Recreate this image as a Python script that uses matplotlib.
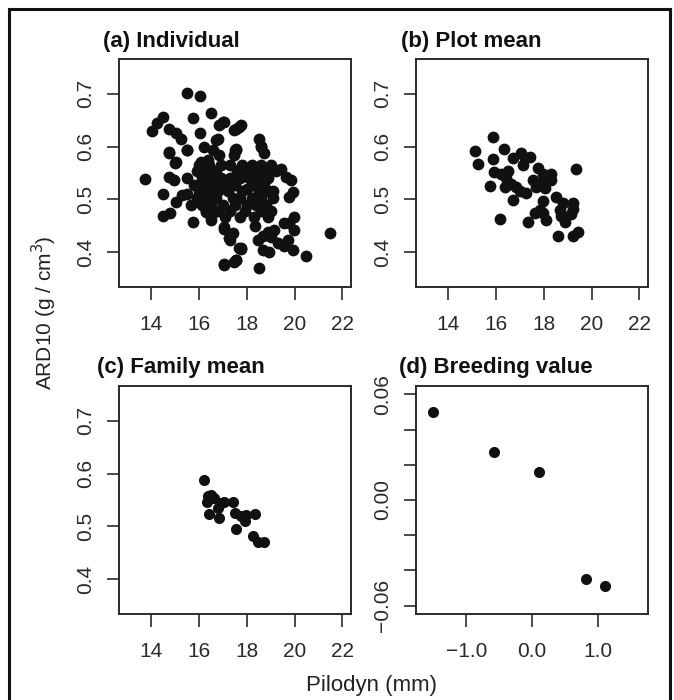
import matplotlib
matplotlib.use('Agg')
import matplotlib.pyplot as plt
from matplotlib.lines import Line2D
from matplotlib.ticker import FixedLocator, FixedFormatter

plt.rcParams['font.family'] = ['Liberation Sans', 'DejaVu Sans']

# (a) individual trees: pilodyn (mm), ARD10 (g/cm3)
ind_x = [15.50, 16.02, 16.48, 15.75, 14.48, 14.24, 14.03, 14.73, 15.01, 15.22,
         15.50, 14.73, 15.01, 16.02, 16.83, 17.04, 16.77, 17.54, 16.20, 16.56,
         16.83, 16.06, 16.35, 17.54, 13.75, 14.73, 14.94, 15.50, 17.68, 17.47,
         18.52, 18.59, 18.73, 17.54, 17.47, 19.43, 19.64, 19.85, 14.49, 15.01,
         15.29, 15.50, 15.64, 14.49, 14.77, 15.75, 16.48, 16.27, 17.04, 17.25,
         17.68, 17.04, 17.47, 19.92, 19.78, 21.47, 20.48, 19.99, 19.78, 19.99,
         19.57, 19.92, 19.57, 19.71, 17.75, 18.52, 17.54, 18.66, 18.94, 18.45,
         19.01, 19.29, 19.15, 17.06, 17.27, 17.41, 18.32, 18.67, 18.88, 17.76,
         17.55, 17.03, 16.70, 17.48, 18.60, 16.99, 17.76, 15.49, 14.74, 15.00,
         # dense core
         16.00, 16.40, 16.90, 17.30, 17.80, 18.20, 18.60, 19.00,
         15.90, 16.30, 16.70, 17.60, 18.00, 18.40, 18.80, 19.20,
         16.10, 16.50, 16.90, 17.30, 17.70, 18.10, 18.50, 18.90,
         15.80, 16.20, 16.60, 17.00, 17.50, 18.30, 18.70,
         16.00, 16.40, 16.80, 17.20, 17.80, 18.50, 18.90,
         15.90, 16.30, 16.70, 17.40, 17.70, 18.20, 18.60, 19.10,
         16.10, 16.50, 17.00, 17.50, 18.00, 18.40, 18.80,
         16.30, 16.80, 17.30, 17.90, 18.60, 19.00,
         16.50, 17.10, 17.70, 18.30, 18.90,
         18.20, 18.60, 19.00, 17.90, 18.45, 18.85, 18.00, 18.75, 19.10, 17.20,
         16.50]
ind_y = [0.701, 0.695, 0.664, 0.654, 0.657, 0.645, 0.629, 0.634, 0.625, 0.615,
         0.593, 0.590, 0.571, 0.625, 0.640, 0.646, 0.615, 0.634, 0.599, 0.593,
         0.584, 0.571, 0.574, 0.593, 0.538, 0.543, 0.536, 0.540, 0.637, 0.631,
         0.615, 0.602, 0.587, 0.596, 0.584, 0.558, 0.543, 0.536, 0.510, 0.495,
         0.508, 0.511, 0.489, 0.468, 0.474, 0.458, 0.461, 0.477, 0.448, 0.426,
         0.407, 0.376, 0.382, 0.514, 0.505, 0.437, 0.393, 0.467, 0.455, 0.442,
         0.455, 0.404, 0.411, 0.423, 0.407, 0.370, 0.385, 0.404, 0.401, 0.423,
         0.429, 0.417, 0.442, 0.443, 0.424, 0.436, 0.449, 0.430, 0.439, 0.406,
         0.386, 0.377, 0.613, 0.593, 0.600, 0.646, 0.641, 0.593, 0.587, 0.569,
         0.565, 0.565, 0.565, 0.565, 0.565, 0.565, 0.565, 0.565,
         0.553, 0.553, 0.553, 0.553, 0.553, 0.553, 0.553, 0.553,
         0.540, 0.540, 0.540, 0.540, 0.540, 0.540, 0.540, 0.540,
         0.528, 0.528, 0.528, 0.528, 0.528, 0.528, 0.528,
         0.515, 0.515, 0.515, 0.515, 0.515, 0.515, 0.515,
         0.503, 0.503, 0.503, 0.503, 0.503, 0.503, 0.503, 0.503,
         0.490, 0.490, 0.490, 0.490, 0.490, 0.490, 0.490,
         0.478, 0.478, 0.478, 0.478, 0.478, 0.478,
         0.466, 0.466, 0.466, 0.466, 0.466,
         0.560, 0.558, 0.557, 0.558, 0.547, 0.545, 0.520, 0.520, 0.515, 0.530,
         0.525]

# (b) plot means
plot_x = [15.85, 15.12, 15.25, 16.32, 15.85, 16.70, 17.05, 17.19, 17.40, 17.12,
          15.92, 16.20, 16.49, 15.76, 16.42, 16.35, 16.63, 16.84, 16.70, 16.98,
          17.75, 17.96, 18.31, 17.54, 17.82, 18.10, 17.68, 18.03, 18.31, 19.34,
          18.52, 18.80, 18.66, 17.96, 17.82, 17.61, 17.96, 18.10, 17.33, 16.16,
          18.73, 18.87, 19.22, 19.22, 19.15, 18.59, 19.22, 19.43, 17.26]
plot_y = [0.618, 0.592, 0.568, 0.595, 0.576, 0.578, 0.587, 0.578, 0.581, 0.565,
          0.551, 0.549, 0.553, 0.526, 0.540, 0.524, 0.530, 0.524, 0.499, 0.515,
          0.559, 0.549, 0.549, 0.537, 0.531, 0.534, 0.524, 0.521, 0.537, 0.557,
          0.505, 0.493, 0.480, 0.496, 0.480, 0.474, 0.474, 0.461, 0.458, 0.463,
          0.468, 0.458, 0.493, 0.481, 0.472, 0.430, 0.431, 0.439, 0.512]

# (c) family means
fam_x = [16.22, 16.36, 16.33, 16.50, 16.64, 16.92, 17.06, 17.41, 16.43, 16.78,
         16.85, 17.48, 17.76, 17.97, 18.32, 17.90, 17.55, 18.25, 18.46, 18.71]
fam_y = [0.588, 0.557, 0.547, 0.560, 0.554, 0.544, 0.547, 0.547, 0.524, 0.535,
         0.516, 0.526, 0.519, 0.522, 0.524, 0.510, 0.495, 0.482, 0.470, 0.470]

# (d) breeding values
bv_x = [-1.51, -0.58, 0.11, 0.82, 1.12]
bv_y = [0.050, 0.027, 0.016, -0.045, -0.049]

W, H = 674, 700
fig = plt.figure(figsize=(W / 100, H / 100), dpi=100)


def box(l, t, r, b):
    return [l / W, 1 - b / H, (r - l) / W, (b - t) / H]


ax_a = fig.add_axes(box(119, 59, 351, 287))
ax_b = fig.add_axes(box(416, 59, 648, 287))
ax_c = fig.add_axes(box(119, 386, 351, 614))
ax_d = fig.add_axes(box(416, 386, 648, 614))

dark = '#2b2b2b'
for ax in (ax_a, ax_b, ax_c, ax_d):
    for s in ax.spines.values():
        s.set_color(dark)
        s.set_linewidth(1.4)
    ax.tick_params(axis='x', length=9, width=1.2, color=dark, pad=11,
                   labelsize=15, labelcolor='#2a2a2a')
    ax.tick_params(axis='y', length=9, width=1.2, color=dark, pad=8,
                   labelsize=15, labelcolor='#2a2a2a')

ax_a.plot(ind_x, ind_y, 'o', color='#111111', ms=8.5, mew=0)
ax_b.plot(plot_x, plot_y, 'o', color='#111111', ms=8.5, mew=0)
ax_c.plot(fam_x, fam_y, 'o', color='#111111', ms=8, mew=0)
ax_d.plot(bv_x, bv_y, 'o', color='#111111', ms=8, mew=0)

for ax in (ax_a, ax_b, ax_c):
    ax.set_xlim(12.64, 22.36)
    ax.set_ylim(0.334, 0.766)
    ax.set_xticks([14, 16, 18, 20, 22])
    ax.set_yticks([0.4, 0.5, 0.6, 0.7])
    ax.set_yticklabels(['0.4', '0.5', '0.6', '0.7'], rotation=90, va='center')

ax_d.set_xlim(-1.768, 1.768)
ax_d.set_ylim(-0.0648, 0.0648)
ax_d.set_xticks([-1, 0, 1])
ax_d.set_xticklabels(['\u22121.0', '0.0', '1.0'])
ax_d.yaxis.set_major_locator(FixedLocator([-0.06, -0.04, -0.02, 0, 0.02, 0.04, 0.06]))
ax_d.yaxis.set_major_formatter(FixedFormatter(['\u22120.06', '', '', '0.00', '', '', '0.06']))
for t in ax_d.get_yticklabels():
    t.set_rotation(90)
    t.set_va('center')

title_kw = dict(fontsize=16, fontweight='bold', color='#111111', ha='left', va='center')
fig.text(103 / W, 1 - 42 / H, '(a) Individual', **title_kw)
fig.text(401 / W, 1 - 42 / H, '(b) Plot mean', **title_kw)
fig.text(97 / W, 1 - 368 / H, '(c) Family mean', **title_kw)
fig.text(399 / W, 1 - 368 / H, '(d) Breeding value', **title_kw)

fig.text(372 / W, 1 - 686 / H, 'Pilodyn (mm)', fontsize=16, color='#222222',
         ha='center', va='center')
fig.text(44 / W, 1 - 313 / H, 'ARD10 (g / cm$^3$)', fontsize=15, color='#222222',
         ha='center', va='center', rotation=90)

# outer frame
fx0, fy0, fx1 = 9 / W, 1 - 9 / H, 670 / W
frame = dict(color='#111111', lw=2.2, transform=fig.transFigure)
fig.lines.append(Line2D([fx0, fx1], [fy0, fy0], **frame))
fig.lines.append(Line2D([fx0, fx0], [fy0, 0], **frame))
fig.lines.append(Line2D([fx1, fx1], [fy0, 0], **frame))

fig.savefig('out.png', dpi=100)
